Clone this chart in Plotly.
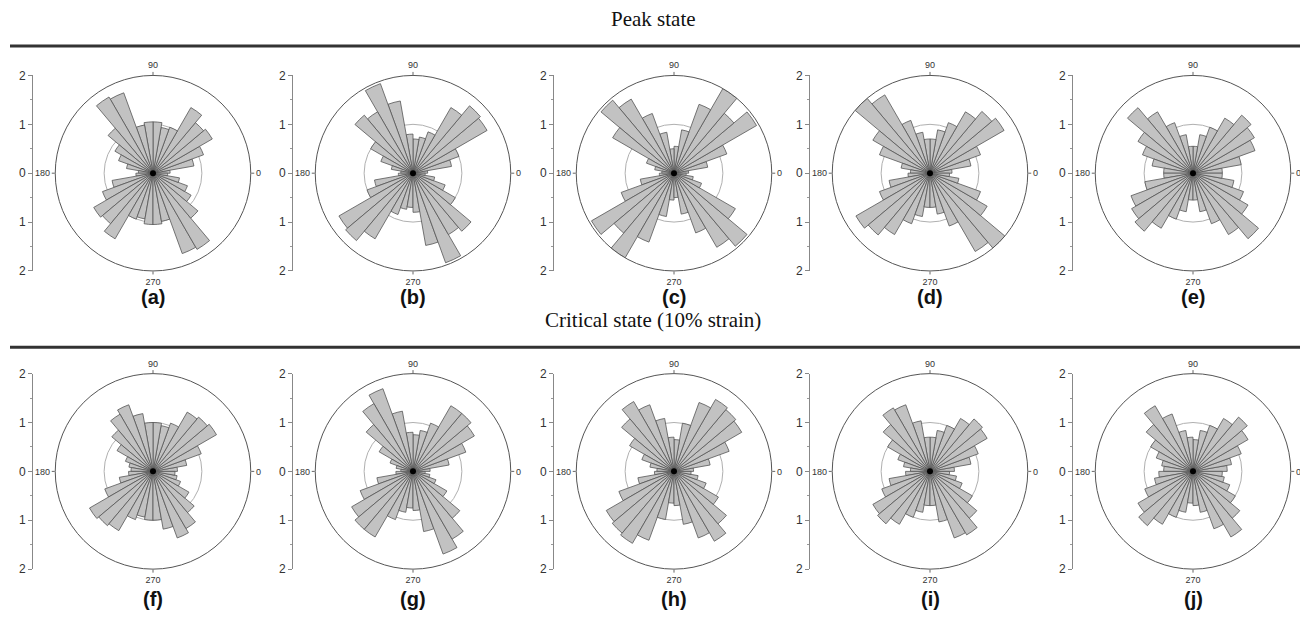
import plotly.graph_objects as go

# Rose-diagram bin centres (10-degree bins over 0-180; the distribution is centrosymmetric)
bin_centres = [5, 15, 25, 35, 45, 55, 65, 75, 85, 95, 105, 115, 125, 135, 145, 155, 165, 175]
bin_width = 10

# Normalised contact-normal frequency per bin, 0-180 degrees
peak_a = [0.35, 0.85, 1.10, 1.40, 1.35, 1.55, 1.00, 0.95, 1.05, 1.05, 1.00, 1.75, 1.80, 1.20, 0.90, 0.75, 0.55, 0.30]
peak_b = [0.30, 0.80, 1.00, 1.75, 1.80, 1.55, 0.90, 0.75, 0.70, 0.80, 1.50, 1.95, 1.45, 1.55, 1.00, 0.70, 0.45, 0.25]
peak_c = [0.30, 0.70, 1.15, 1.95, 1.60, 2.00, 1.50, 0.90, 0.55, 0.50, 0.85, 1.30, 1.75, 1.95, 1.45, 0.60, 0.40, 0.25]
peak_d = [0.45, 0.85, 1.10, 1.75, 1.65, 1.45, 1.10, 0.90, 0.70, 0.70, 0.85, 1.15, 1.85, 2.00, 1.35, 1.10, 0.60, 0.40]
peak_e = [0.60, 1.00, 1.35, 1.45, 1.55, 1.30, 1.00, 0.80, 0.55, 0.55, 0.80, 1.10, 1.45, 1.75, 1.30, 1.10, 0.85, 0.60]

crit_f = [0.50, 0.70, 1.05, 1.50, 1.45, 1.40, 1.05, 0.95, 1.00, 1.00, 1.20, 1.45, 1.35, 1.10, 0.85, 0.60, 0.50, 0.45]
crit_g = [0.35, 0.75, 1.15, 1.45, 1.55, 1.55, 1.05, 0.85, 0.75, 0.80, 1.25, 1.80, 1.60, 1.25, 0.80, 0.50, 0.35, 0.25]
crit_h = [0.40, 0.75, 1.20, 1.60, 1.65, 1.70, 1.50, 1.00, 0.65, 0.70, 1.10, 1.45, 1.65, 1.40, 1.05, 0.70, 0.50, 0.35]
crit_i = [0.50, 0.85, 1.05, 1.35, 1.40, 1.25, 1.00, 0.85, 0.70, 0.70, 1.05, 1.45, 1.50, 1.25, 1.00, 0.70, 0.55, 0.40]
crit_j = [0.70, 0.80, 1.05, 1.30, 1.45, 1.25, 1.00, 0.85, 0.65, 0.70, 0.85, 1.25, 1.55, 1.25, 1.00, 0.80, 0.65, 0.60]

panel_labels = ["(a)", "(b)", "(c)", "(d)", "(e)", "(f)", "(g)", "(h)", "(i)", "(j)"]
panel_data = [peak_a, peak_b, peak_c, peak_d, peak_e, crit_f, crit_g, crit_h, crit_i, crit_j]
row_titles = ["Peak state", "Critical state (10% strain)"]

radial_ticks = [-2, -1, 0, 1, 2]
radial_ticktext = ["2", "1", "0", "1", "2"]
angle_ticks = [0, 90, 180, 270]

# Page geometry (pixels)
W, H = 1300, 626
R_PX = 100
col_cx = [153, 413, 674, 930, 1193]
row_cy = [170, 475]
label_y = [297, 606]
title_y = [12, 320]
rule_y = [40, 348]

BAR_FILL = "#c2c2c2"
BAR_EDGE = "#555555"
TEXT = "#333333"
SANS = "Liberation Sans, Arial, sans-serif"
SERIF = "Liberation Serif, Times New Roman, serif"

fig = go.Figure()
layout = dict(
    width=W, height=H,
    margin=dict(l=0, r=0, t=0, b=0),
    paper_bgcolor="white", plot_bgcolor="white",
    showlegend=False,
    annotations=[], shapes=[],
)

for k, (vals, lab) in enumerate(zip(panel_data, panel_labels)):
    row, col = divmod(k, 5)
    cx, cy = col_cx[col], row_cy[row]
    idx = k + 1
    pname = "polar" if idx == 1 else f"polar{idx}"

    theta = bin_centres + [c + 180 for c in bin_centres]
    r = vals + vals
    fig.add_trace(go.Barpolar(
        r=r, theta=theta, width=[bin_width] * len(theta),
        marker=dict(color=BAR_FILL, line=dict(color=BAR_EDGE, width=0.8)),
        subplot=pname, hoverinfo="skip",
    ))
    # dark hub where the bar edges meet
    fig.add_trace(go.Scatterpolar(
        r=[0], theta=[0], mode="markers", subplot=pname, hoverinfo="skip",
        marker=dict(color="black", size=6),
    ))

    layout[pname] = dict(
        domain=dict(x=[(cx - R_PX) / W, (cx + R_PX) / W],
                    y=[1 - (cy + R_PX) / H, 1 - (cy - R_PX) / H]),
        bgcolor="white",
        radialaxis=dict(range=[0, 2], tickvals=[1], showticklabels=False, ticks="",
                        showline=False, gridcolor="#b0b0b0", gridwidth=1),
        angularaxis=dict(rotation=0, direction="counterclockwise",
                         tickvals=angle_ticks, ticktext=["0", "90", "180", "270"],
                         ticks="outside", ticklen=3, tickcolor="#666",
                         showgrid=False, showline=True, linecolor="#555", linewidth=1,
                         tickfont=dict(family=SANS, size=9, color=TEXT)),
        bargap=0,
    )

    # Vertical radius scale to the left of each rose
    xa = f"xaxis{idx}"
    ya = f"yaxis{idx}"
    ax_x = (cx - 120) / W
    fig.add_trace(go.Scatter(x=[None], y=[None], xaxis=f"x{idx}", yaxis=f"y{idx}",
                             hoverinfo="skip", showlegend=False))
    layout[xa] = dict(domain=[ax_x, ax_x + 0.004], visible=False, anchor=f"y{idx}")
    layout[ya] = dict(domain=[1 - (cy + R_PX) / H, 1 - (cy - R_PX) / H], anchor=f"x{idx}",
                      range=[-2, 2], tickvals=radial_ticks, ticktext=radial_ticktext,
                      ticks="outside", ticklen=4, tickcolor="#888",
                      showline=True, linecolor="#888", linewidth=1,
                      showgrid=False, zeroline=False,
                      minor=dict(tickvals=[-1.5, -0.5, 0.5, 1.5], ticks="outside",
                                 ticklen=2, tickcolor="#999"),
                      tickfont=dict(family=SANS, size=12, color=TEXT))

    layout["annotations"].append(dict(
        text=f"<b>{lab}</b>", x=cx / W, y=1 - label_y[row] / H,
        xref="paper", yref="paper", xanchor="center", yanchor="middle",
        showarrow=False, font=dict(family=SANS, size=20, color="#111"),
    ))

for t, ty, ry in zip(row_titles, title_y, rule_y):
    layout["annotations"].append(dict(
        text=t, x=653 / W, y=1 - ty / H, xref="paper", yref="paper",
        xanchor="center", yanchor="middle", showarrow=False,
        font=dict(family=SERIF, size=21, color="#111"),
    ))
    layout["shapes"].append(dict(
        type="line", xref="paper", yref="paper",
        x0=10 / W, x1=1.0, y0=1 - ry / H, y1=1 - ry / H,
        line=dict(color="#333", width=3),
    ))

fig.update_layout(**layout)
fig.write_html("out.html")
